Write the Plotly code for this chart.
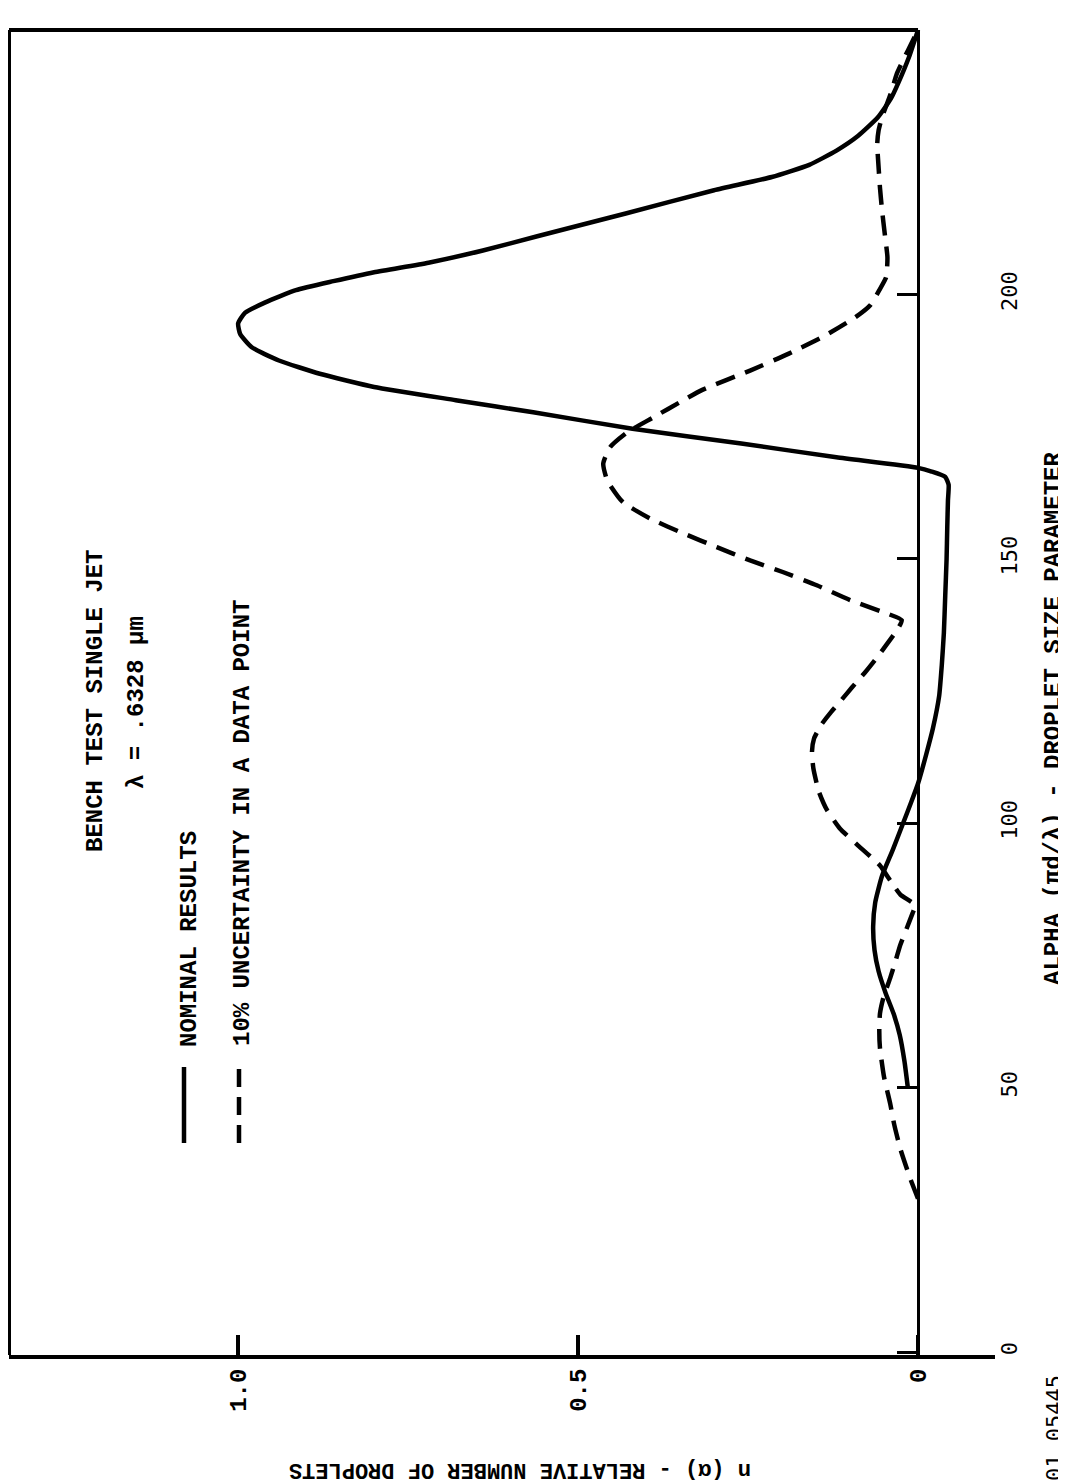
import plotly.graph_objects as go

# ---------------- data ----------------
alpha_nominal = [50, 55, 60, 64, 68, 72, 76, 80.5, 85, 90, 95, 100, 104, 107.5,
                 113, 118, 124, 130, 136, 143, 150, 156, 161, 164, 165.5, 166.5,
                 167.2, 169.2, 171.8, 174.6, 177.7, 180, 182.5, 185, 187.5, 190,
                 192.5, 194.5, 196.5, 198.5, 200.8, 202.5, 204.2, 206, 208.3, 211,
                 215.3, 219.7, 222.2, 224.5, 227.2, 230, 233.5, 237, 240, 245, 250]
n_nominal = [0.015, 0.02, 0.027, 0.036, 0.048, 0.058, 0.064, 0.066, 0.063, 0.053,
             0.037, 0.022, 0.01, 0.0, -0.012, -0.022, -0.031, -0.035, -0.038,
             -0.04, -0.042, -0.043, -0.044, -0.045, -0.04, -0.02, 0.0, 0.12,
             0.26, 0.42, 0.566, 0.68, 0.80, 0.88, 0.94, 0.98, 0.997, 1.0, 0.99,
             0.96, 0.915, 0.86, 0.80, 0.72, 0.64, 0.56, 0.43, 0.30, 0.215, 0.16,
             0.12, 0.088, 0.059, 0.04, 0.029, 0.013, 0.0]

alpha_uncert = [29, 33, 38.4, 43, 47, 52, 57.5, 61, 64, 67, 70.7, 74, 77, 80, 83,
                84.5, 86.5, 89, 92, 96, 99, 102.5, 106, 110.4, 113.5, 116, 118.5,
                121, 123.4, 125.7, 128.5, 131.4, 134, 136.5, 138.4, 139.9, 142.2,
                145, 147.5, 149.7, 152.2, 154.8, 157.6, 160.7, 164.8, 168, 171.1,
                173.9, 176.7, 180, 181.9, 185.6, 188.8, 191.9, 195.7, 198, 200.8,
                203.2, 207, 211.5, 216, 220.2, 224, 228.5, 231, 233.5, 238, 241.8,
                246.1, 250]
n_uncert = [0.0, 0.012, 0.026, 0.035, 0.041, 0.05, 0.056, 0.057, 0.056, 0.051,
            0.041, 0.033, 0.026, 0.017, 0.008, 0.004, 0.026, 0.04, 0.056, 0.09,
            0.115, 0.134, 0.146, 0.154, 0.156, 0.153, 0.143, 0.128, 0.112, 0.097,
            0.078, 0.06, 0.045, 0.031, 0.024, 0.051, 0.1, 0.149, 0.199, 0.247,
            0.296, 0.345, 0.394, 0.434, 0.457, 0.463, 0.453, 0.428, 0.39, 0.345,
            0.318, 0.247, 0.19, 0.141, 0.092, 0.07, 0.057, 0.047, 0.045, 0.049,
            0.053, 0.056, 0.058, 0.06, 0.058, 0.053, 0.04, 0.031, 0.015, 0.0]

n_tick_vals = [0, 0.5, 1.0]
n_tick_text = ["0", "0.5", "1.0"]
alpha_tick_vals = [0, 50, 100, 150, 200, 250]
alpha_tick_text = ["0", "50", "100", "150", "200", "250"]

# ---------------- layout geometry ----------------
# The page body has an 8px margin, so the figure is drawn 8px in from the
# window corner; screen positions below are window pixels.
OFF = 8
W, H = 1066 - OFF, 1481 - OFF
L, R, T, B = 9, 995, 30, 1355          # plot area on screen


def px(xs):
    return (xs - L) / (R - L)


def py(ys):
    return (B - ys) / (B - T)


N_RANGE = [1.337, -0.1132]
A_RANGE = [-0.567, 250]
zero_pos = (N_RANGE[0] - 0) / (N_RANGE[0] - N_RANGE[1])

MONO = "Liberation Mono"
SANS_MONO = "DejaVu Sans Mono"

fig = go.Figure()
fig.add_trace(go.Scatter(x=n_nominal, y=alpha_nominal, mode="lines",
                         line=dict(color="black", width=4.5, shape="spline",
                                   smoothing=0.5),
                         name="NOMINAL RESULTS", hoverinfo="skip"))
fig.add_trace(go.Scatter(x=n_uncert, y=alpha_uncert, mode="lines",
                         line=dict(color="black", width=4.5, dash="20px,11px",
                                   shape="spline", smoothing=0.5),
                         name="10% UNCERTAINTY IN A DATA POINT", hoverinfo="skip"))

shapes = [
    dict(type="line", xref="paper", yref="paper", x0=0, x1=0, y0=0, y1=1,
         line=dict(color="black", width=4)),
    dict(type="line", xref="paper", yref="paper", x0=0, x1=zero_pos, y0=1, y1=1,
         line=dict(color="black", width=4)),
    dict(type="line", xref="paper", yref="paper", x0=px(184), x1=px(184),
         y0=py(1143), y1=py(1067), line=dict(color="black", width=4.5)),
    dict(type="line", xref="paper", yref="paper", x0=px(239), x1=px(239),
         y0=py(1143), y1=py(1067),
         line=dict(color="black", width=4.5, dash="18px,10px")),
]

bold24 = dict(family=MONO, size=24, color="black", weight="bold")
annotations = [
    dict(text="BENCH TEST SINGLE JET", x=px(95), y=py(701), textangle=-90),
    dict(text="λ = .6328 μm", x=px(137), y=py(703), textangle=-90),
    dict(text="NOMINAL RESULTS", x=px(189), y=py(939), textangle=-90),
    dict(text="10% UNCERTAINTY IN A DATA POINT", x=px(242), y=py(823), textangle=-90),
    dict(text="ALPHA (πd/λ) - DROPLET SIZE PARAMETER", x=px(1053), y=py(719),
         textangle=-90),
    dict(text="n (α) - RELATIVE NUMBER OF DROPLETS", x=px(520), y=py(1469),
         textangle=180, font=dict(family=MONO, size=22, color="black", weight="bold")),
    dict(text="01 05445", x=px(1054), y=py(1428), textangle=-90,
         font=dict(family=SANS_MONO, size=22, color="black")),
]
for a in annotations:
    a.setdefault("font", bold24)
    a.update(xref="paper", yref="paper", showarrow=False,
             xanchor="center", yanchor="middle")

fig.update_layout(
    width=W, height=H,
    margin=dict(l=L - OFF, r=W - (R - OFF), t=T - OFF, b=H - (B - OFF),
                autoexpand=False),
    paper_bgcolor="white", plot_bgcolor="white",
    showlegend=False,
    shapes=shapes,
    annotations=annotations,
    xaxis=dict(range=N_RANGE, tickvals=n_tick_vals, ticktext=n_tick_text,
               tickangle=-90, ticks="inside", ticklen=20, tickwidth=4,
               tickcolor="black", showline=True, linecolor="black", linewidth=4,
               zeroline=True, zerolinecolor="black", zerolinewidth=3,
               showgrid=False, automargin=False,
               tickfont=dict(family=MONO, size=24, color="black", weight="bold")),
    yaxis=dict(range=A_RANGE, tickvals=alpha_tick_vals, ticktext=alpha_tick_text,
               anchor="free", position=zero_pos, side="right",
               ticks="inside", ticklen=21, tickwidth=3, tickcolor="black",
               showline=False, zeroline=False, showgrid=False,
               tickangle=-90, ticklabelstandoff=76, automargin=False,
               tickfont=dict(family=SANS_MONO, size=22, color="black")),
)

fig.write_html("out.html")
